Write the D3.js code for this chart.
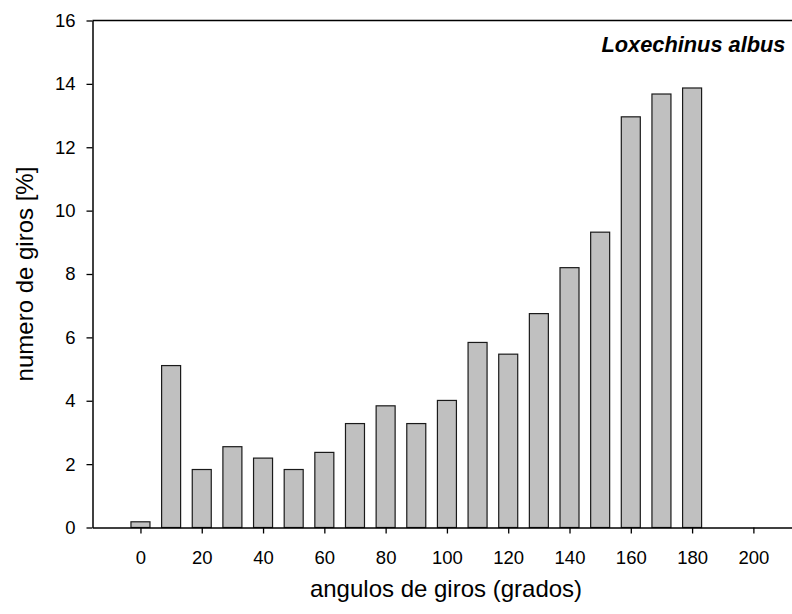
<!DOCTYPE html>
<html>
<head>
<meta charset="utf-8">
<script src="https://d3js.org/d3.v7.min.js"></script>
<style>
  html, body { margin: 0; padding: 0; background: #fff; }
  svg { display: block; font-family: "Liberation Sans", Arial, sans-serif; }
</style>
</head>
<body>
<svg id="chart" width="792" height="614"></svg>
<script>
// angle classes (degrees) and percentage of turns
const angles = [0, 10, 20, 30, 40, 50, 60, 70, 80, 90, 100, 110, 120, 130, 140, 150, 160, 170, 180];
const percents = [0.18, 5.11, 1.83, 2.55, 2.19, 1.83, 2.37, 3.28, 3.84, 3.28, 4.01, 5.84, 5.47, 6.75, 8.2, 9.32, 12.96, 13.68, 13.87];
const xTicks = [0, 20, 40, 60, 80, 100, 120, 140, 160, 180, 200];
const yTicks = [0, 2, 4, 6, 8, 10, 12, 14, 16];

const svg = d3.select('#chart');
const plotLeft = 92.5, plotRight = 792, plotTop = 20.5, plotBottom = 527.5;

const x = d3.scaleLinear().domain([-15.65, 212.6]).range([plotLeft, plotRight]);
const y = d3.scaleLinear().domain([0, 16]).range([plotBottom, plotTop]);
const barW = 6.2;

// bars
svg.append('g')
    .selectAll('rect')
    .data(angles.map((a, i) => ({ a, v: percents[i] })))
    .join('rect')
    .attr('x', d => x(d.a - barW / 2))
    .attr('y', d => y(d.v))
    .attr('width', d => x(d.a + barW / 2) - x(d.a - barW / 2))
    .attr('height', d => y(0) - y(d.v))
    .attr('fill', '#c0c0c0')
    .attr('stroke', '#1a1a1a')
    .attr('stroke-width', 1.2);

// top frame line
svg.append('line')
    .attr('x1', plotLeft).attr('x2', plotRight)
    .attr('y1', plotTop).attr('y2', plotTop)
    .attr('stroke', '#000').attr('stroke-width', 1.3);

// x axis
const xAxis = svg.append('g')
    .attr('transform', `translate(0,${plotBottom})`)
    .call(d3.axisBottom(x).tickValues(xTicks).tickSize(6).tickPadding(17).tickSizeOuter(0));
xAxis.select('.domain').attr('stroke-width', 1.5);
xAxis.selectAll('.tick line').attr('stroke-width', 1.3);
xAxis.selectAll('text').attr('font-size', 18.5).attr('fill', '#000');

// y axis
const yAxis = svg.append('g')
    .attr('transform', `translate(${plotLeft},0)`)
    .call(d3.axisLeft(y).tickValues(yTicks).tickSize(6).tickPadding(11).tickSizeOuter(0));
yAxis.select('.domain').attr('stroke-width', 1.5);
yAxis.selectAll('.tick line').attr('stroke-width', 1.3);
yAxis.selectAll('text').attr('font-size', 18.5).attr('fill', '#000');

// axis titles
svg.append('text')
    .attr('x', 446).attr('y', 597)
    .attr('text-anchor', 'middle')
    .attr('font-size', 24)
    .text('angulos de giros (grados)');

svg.append('text')
    .attr('transform', 'translate(33,274) rotate(-90)')
    .attr('text-anchor', 'middle')
    .attr('font-size', 24)
    .text('numero de giros [%]');

// species label
svg.append('text')
    .attr('x', 785.5).attr('y', 51.7)
    .attr('text-anchor', 'end')
    .attr('font-size', 21.8)
    .attr('font-weight', 'bold')
    .attr('font-style', 'italic')
    .text('Loxechinus albus');
</script>
</body>
</html>
